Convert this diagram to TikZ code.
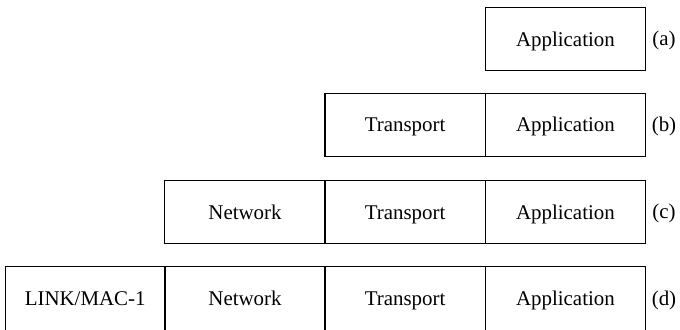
\documentclass[tikz,border=0pt]{standalone}
\usepackage{fontspec}
\setmainfont{Liberation Serif}
\begin{document}
\begin{tikzpicture}[x=1bp,y=-1bp,
  layerbox/.style={draw, line width=1.1bp, rectangle, minimum width=160.3bp, minimum height=63bp, inner sep=0pt, text height=16bp, text depth=2bp, anchor=north west, font=\fontsize{21}{25}\selectfont},
  rowlabel/.style={font=\fontsize{21}{25}\selectfont, inner sep=0pt, text height=16bp, text depth=2bp, anchor=center}]
\useasboundingbox (0,0) rectangle (680,329);
% row (a)
\node[layerbox] (aA) at (484.7,7) {Application};
\node[rowlabel] (la) at (664,38.5) {(a)};
% row (b)
\node[layerbox] (bT) at (324.4,92.5) {Transport};
\node[layerbox] (bA) at (484.7,92.5) {Application};
\node[rowlabel] (lb) at (664,124) {(b)};
% row (c)
\node[layerbox] (cN) at (164.3,180) {Network};
\node[layerbox] (cT) at (324.4,180) {Transport};
\node[layerbox] (cA) at (484.7,180) {Application};
\node[rowlabel] (lc) at (664,211.5) {(c)};
% row (d)
\node[layerbox, minimum height=65bp] (dL) at (4.5,265.5) {LINK/MAC-1};
\node[layerbox, minimum height=65bp] (dN) at (164.3,265.5) {Network};
\node[layerbox, minimum height=65bp] (dT) at (324.4,265.5) {Transport};
\node[layerbox, minimum height=65bp] (dA) at (484.7,265.5) {Application};
\node[rowlabel] (ld) at (664,298) {(d)};
\end{tikzpicture}
\end{document}
